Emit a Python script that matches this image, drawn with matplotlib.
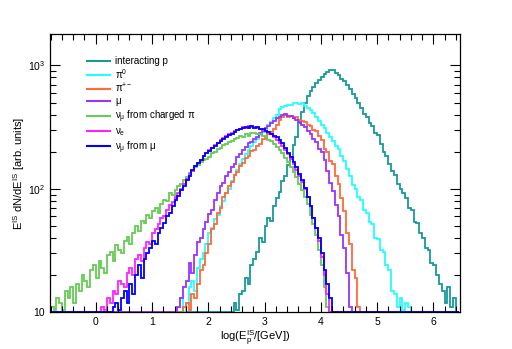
import numpy as np
import matplotlib
matplotlib.use('Agg')
import matplotlib.pyplot as plt

plt.rcParams['font.family'] = ['Liberation Sans', 'DejaVu Sans']
plt.rcParams['mathtext.fontset'] = 'custom'
plt.rcParams['mathtext.rm'] = 'Liberation Sans'
plt.rcParams['mathtext.it'] = 'Liberation Sans'

# histogram bins: width 0.05 in log(E/GeV), each series given from its first filled bin
bin_width = 0.05
x_first = -0.80
x_last = 6.45

p_start = 2.40
p_vals = [9, 12, 10.5, 14, 15, 19, 17, 24, 27, 31,
          40, 37, 50, 58, 55, 72, 84, 95, 116, 128,
          155, 180, 225, 265, 340, 420, 495, 565, 615, 670,
          720, 765, 800, 845, 880, 915, 910, 865, 830, 780,
          745, 690, 640, 590, 545, 495, 455, 405, 385, 340,
          325, 285, 272, 232, 200, 184, 160, 140, 130, 110,
          100, 92, 84, 70, 68, 54, 53, 44, 40, 33,
          32, 25, 24, 20, 17, 15, 12, 16, 11, 13]

pi0_start = 1.45
pi0_vals = [11, 13, 10, 12, 16, 18, 15, 23, 27, 30,
            36, 44, 48, 57, 62, 72, 80, 92, 100, 116,
            130, 143, 160, 176, 190, 206, 222, 240, 254, 272,
            290, 308, 332, 348, 372, 400, 440, 458, 472, 482,
            475, 492, 498, 484, 500, 472, 452, 432, 408, 382,
            352, 332, 310, 282, 262, 242, 222, 212, 184, 168,
            144, 128, 108, 100, 86, 82, 68, 64, 54, 52,
            40, 39, 32, 31, 24, 22, 15, 14, 11, 13,
            10.5, 12, 11]

pipm_start = 1.55
pipm_vals = [11, 12, 10.5, 14, 13, 17, 22, 24, 30, 36,
             47, 52, 64, 70, 86, 92, 106, 114, 130, 138,
             154, 162, 178, 186, 202, 208, 224, 232, 252, 258,
             280, 288, 306, 328, 362, 382, 398, 380, 392, 372,
             384, 362, 356, 346, 330, 322, 302, 292, 268, 248,
             212, 198, 168, 158, 128, 110, 84, 66, 44, 36,
             22, 19, 11]

mu_start = 1.45
mu_vals = [11, 13, 16, 18, 25, 21, 29, 37, 40, 47,
           54, 63, 68, 82, 92, 106, 112, 126, 136, 150,
           160, 180, 190, 206, 218, 234, 240, 254, 264, 282,
           292, 312, 324, 342, 352, 372, 384, 398, 402, 388,
           388, 372, 358, 348, 332, 318, 292, 278, 252, 238,
           212, 198, 172, 140, 112, 96, 74, 60, 42, 33,
           21, 11]

numu_pi_start = -0.80
numu_pi_vals = [11, 10.5, 13, 12, 10.5, 15, 13, 16, 12, 17,
                15, 20, 18, 16, 22, 24, 19, 26, 23, 21,
                29, 31, 26, 35, 32, 30, 38, 41, 36, 44,
                50, 46, 55, 53, 62, 58, 66, 70, 64, 76,
                82, 80, 92, 90, 98, 106, 110, 118, 125, 134,
                140, 150, 156, 164, 170, 176, 182, 194, 200, 210,
                216, 226, 230, 240, 246, 254, 258, 268, 262, 276,
                270, 282, 286, 276, 280, 266, 262, 250, 242, 230,
                220, 205, 194, 178, 166, 150, 136, 124, 110, 98,
                86, 76, 62, 52, 42, 32, 24, 16, 11]

nue_start = 0.10
nue_vals = [11, 10.5, 13, 12, 15, 14, 18, 17, 16, 21,
            23, 20, 27, 29, 26, 33, 37, 36, 44, 47,
            52, 58, 60, 68, 74, 78, 86, 92, 100, 110,
            120, 132, 140, 152, 162, 172, 184, 194, 206, 214,
            226, 236, 248, 256, 266, 276, 284, 292, 300, 306,
            316, 312, 322, 316, 318, 310, 306, 300, 292, 284,
            276, 264, 250, 236, 222, 206, 190, 174, 158, 142,
            128, 114, 100, 86, 72, 58, 48, 38, 28, 20,
            14]

numu_mu_start = 0.30
numu_mu_vals = [11, 12, 10.5, 13, 15, 12, 17, 14, 20, 24,
                19, 27, 30, 33, 38, 36, 44, 48, 53, 60,
                64, 72, 82, 88, 98, 106, 118, 126, 142, 152,
                162, 172, 184, 194, 204, 214, 224, 236, 246, 254,
                262, 272, 280, 290, 298, 306, 312, 318, 312, 322,
                314, 318, 308, 304, 296, 290, 280, 270, 262, 250,
                234, 216, 196, 180, 164, 150, 132, 118, 102, 86,
                72, 58, 48, 40, 30, 22, 17, 13]

labels = ['interacting p', r'$\mathregular{\pi^0}$', r'$\mathregular{\pi^{+-}}$',
          r'$\mathregular{\mu}$', r'$\mathregular{\nu_\mu}$ from charged $\mathregular{\pi}$',
          r'$\mathregular{\nu_e}$', r'$\mathregular{\nu_\mu}$ from $\mathregular{\mu}$']
colors = ['#189a9a', '#22ffff', '#ff6a3a', '#9a33ff', '#66cc55', '#ff22ff', '#0000ff']
series = [(p_start, p_vals), (pi0_start, pi0_vals), (pipm_start, pipm_vals),
          (mu_start, mu_vals), (numu_pi_start, numu_pi_vals), (nue_start, nue_vals),
          (numu_mu_start, numu_mu_vals)]

ymin, ymax = 10, 1800
nbins = int(round((x_last - x_first) / bin_width))
edges = x_first + bin_width * np.arange(nbins + 1)

fig = plt.figure(figsize=(5.12, 3.49), dpi=100)
ax = fig.add_axes([0.098, 0.105, 0.801, 0.798])

for (start, vals), col, lab in zip(series, colors, labels):
    full = np.zeros(nbins)
    i0 = int(round((start - x_first) / bin_width))
    full[i0:i0 + len(vals)] = vals
    # empty bins drawn on the bottom frame like ROOT does
    full = np.clip(full, ymin * 1.003, None)
    ax.stairs(full, edges, color=col, lw=1.3, label=lab, baseline=None)

ax.set_yscale('log')
ax.set_xlim(-0.81, 6.48)
ax.set_ylim(ymin, ymax)

ax.set_xticks(range(0, 7))
ax.set_xticks(np.arange(-0.8, 6.5, 0.2), minor=True)
ax.set_yticks([10, 100, 1000])
ax.set_yticklabels(['10', r'$\mathregular{10^2}$', r'$\mathregular{10^3}$'])
ax.tick_params(which='both', direction='in', top=True, right=True, labelsize=7.5)
ax.tick_params(which='major', length=7, width=0.8)
ax.tick_params(which='minor', length=4, width=0.8)
for s in ax.spines.values():
    s.set_linewidth(0.9)

ax.set_xlabel(r'log(E$_\mathregular{p}^\mathregular{IS}$/[GeV])', fontsize=8, labelpad=1)
ax.set_ylabel(r'E$^\mathregular{IS}$ dN/dE$^\mathregular{IS}$ [arb. units]', fontsize=8,
              labelpad=0.5)

leg = ax.legend(loc='upper left', bbox_to_anchor=(86.7 / 512, 1 - 56 / 349),
                bbox_transform=fig.transFigure, frameon=False, fontsize=7,
                handlelength=2.4, handletextpad=0.5, labelspacing=0.1,
                borderpad=0, borderaxespad=0)
for h in leg.get_lines():
    h.set_linewidth(1.5)

fig.savefig('out.png', dpi=100)
